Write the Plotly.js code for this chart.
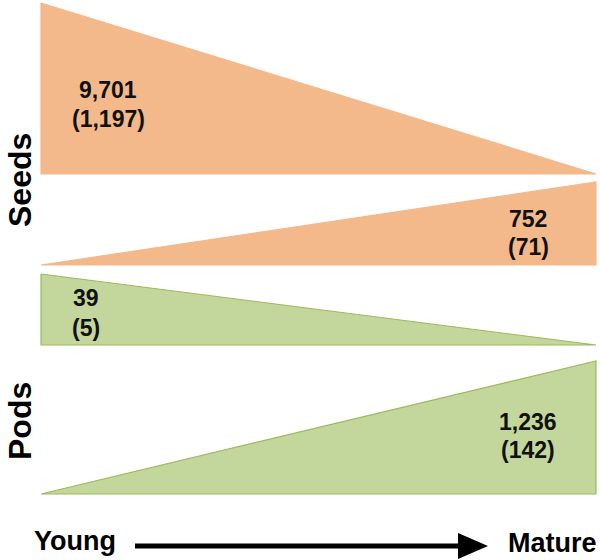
<!DOCTYPE html>
<html>
<head>
<meta charset="utf-8">
<script src="https://cdn.plot.ly/plotly-3.0.1.min.js"></script>
<style>html,body{margin:0;padding:0;background:#fff;}#chart{width:600px;height:560px;}</style>
</head>
<body>
<div id="chart"></div>
<script>
// ---- data ----
const tissues = ['Seeds', 'Seeds', 'Pods', 'Pods'];
const trends = ['decreasing', 'increasing', 'decreasing', 'increasing'];
const counts = [9701, 752, 39, 1236];
const subCounts = [1197, 71, 5, 142];
const groupLabels = ['Seeds', 'Pods'];
const stageLabels = ['Young', 'Mature'];

// ---- layout geometry (pixel-like coordinates) ----
const xLeft = 41, xRight = 596;
const bands = [[3, 174], [182, 265], [274, 345], [361, 494]];
const labelPos = [[108, 90, 119], [528, 219, 247], [86, 298, 328], [528, 422, 450]];
const groupPos = [[20, 180], [20, 421]];
const fillColors = {Seeds: '#F4B98B', Pods: '#C3D69B'};
const lineColors = {Seeds: '#F4B98B', Pods: '#9BBB59'};

const traces = tissues.map((t, i) => {
  const [top, bot] = bands[i];
  let xs, ys;
  if (trends[i] === 'decreasing') {
    xs = [xLeft, xLeft, xRight, xLeft];
    ys = [top, bot, bot, top];
  } else {
    xs = [xLeft, xRight, xRight, xLeft];
    ys = [bot, top, bot, bot];
  }
  return {
    type: 'scatter', mode: 'lines', x: xs, y: ys, fill: 'toself',
    fillcolor: fillColors[t], line: {color: lineColors[t], width: 1.2},
    hoverinfo: 'skip', showlegend: false
  };
});

const fmt = v => v.toLocaleString('en-US');
const font = {family: '"Liberation Sans", Arial, sans-serif', color: '#111', weight: 'bold'};
const annotations = [];
counts.forEach((c, i) => {
  const [x, y1, y2] = labelPos[i];
  annotations.push({x: x, y: y1, xref: 'x', yref: 'y', text: fmt(c), showarrow: false,
    xanchor: 'center', yanchor: 'middle', font: Object.assign({}, font, {size: 23})});
  annotations.push({x: x, y: y2, xref: 'x', yref: 'y', text: '(' + fmt(subCounts[i]) + ')', showarrow: false,
    xanchor: 'center', yanchor: 'middle', font: Object.assign({}, font, {size: 23})});
});
groupLabels.forEach((g, i) => {
  annotations.push({x: groupPos[i][0], y: groupPos[i][1], xref: 'x', yref: 'y', text: g, showarrow: false,
    textangle: -90, xanchor: 'center', yanchor: 'middle', font: Object.assign({}, font, {size: 32, color: '#000'})});
});
annotations.push({x: 75, y: 541, xref: 'x', yref: 'y', text: stageLabels[0], showarrow: false,
  xanchor: 'center', yanchor: 'middle', font: Object.assign({}, font, {size: 27, color: '#000'})});
annotations.push({x: 552, y: 543, xref: 'x', yref: 'y', text: stageLabels[1], showarrow: false,
  xanchor: 'center', yanchor: 'middle', font: Object.assign({}, font, {size: 27, color: '#000'})});

const shapes = [
  {type: 'line', xref: 'x', yref: 'y', x0: 135, x1: 462, y0: 546, y1: 546, line: {color: '#000', width: 5}},
  {type: 'path', xref: 'x', yref: 'y', path: 'M 458 533 L 488 546 L 458 559 Z', fillcolor: '#000', line: {color: '#000', width: 0}}
];

const layout = {
  width: 600, height: 560,
  margin: {l: 0, r: 0, t: 0, b: 0, pad: 0},
  paper_bgcolor: '#fff', plot_bgcolor: '#fff',
  xaxis: {range: [0, 600], visible: false, fixedrange: true},
  yaxis: {range: [560, 0], visible: false, fixedrange: true},
  annotations: annotations, shapes: shapes, showlegend: false
};
Plotly.newPlot('chart', traces, layout, {displayModeBar: false, staticPlot: true});
</script>
</body>
</html>
